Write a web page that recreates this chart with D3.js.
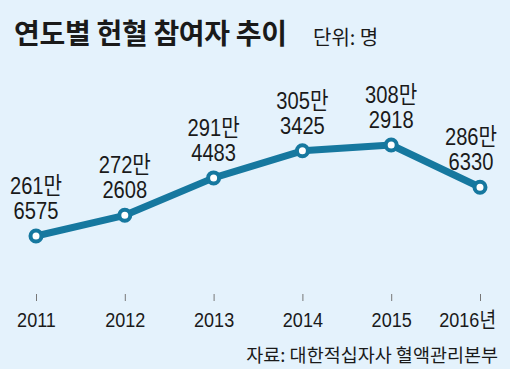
<!DOCTYPE html>
<html>
<head>
<meta charset="utf-8">
<script src="https://cdn.jsdelivr.net/npm/d3@7"></script>
<style>
  body { margin: 0; background: #e4f2fc; }
  svg { display: block; }
  text { fill: #1a1a1a; }
</style>
</head>
<body>
<script>
// 연도별 헌혈 참여자 수 (명)
const years = ["2011", "2012", "2013", "2014", "2015", "2016"];
const donors = [2616575, 2722608, 2914483, 3053425, 3082918, 2866330];
const yearLabels = ["2011", "2012", "2013", "2014", "2015", "2016년"];

function main() {
    const width = 510, height = 369;
    const lineColor = "#16789f";
    const narrow = "'Liberation Sans', Arial, 'Noto Sans CJK KR', sans-serif";

    let svg = d3.select("body").append("svg")
        .attr("width", width)
        .attr("height", height);

    svg.append("rect")
        .attr("width", width).attr("height", height)
        .attr("fill", "#e4f2fc");

    // title
    svg.append("text")
        .attr("x", 14).attr("y", 44)
        .style("font-family", "'Noto Sans CJK KR', sans-serif")
        .style("font-weight", "700")
        .style("font-size", "28px")
        .style("letter-spacing", "-0.3px")
        .text("연도별 헌혈 참여자 추이");

    svg.append("text")
        .attr("x", 313).attr("y", 45)
        .style("font-family", "'Noto Sans CJK KR', sans-serif")
        .style("font-size", "20px")
        .text("단위: 명");

    let xScale = d3.scalePoint().domain(years).range([36, 480]);
    let yScale = d3.scaleLinear().domain([2500000, 3100000]).range([258.7, 141.7]);

    let xAxis = d3.axisBottom(xScale)
        .tickSize(7)
        .tickPadding(11)
        .tickFormat((d, i) => yearLabels[i]);

    let axisG = svg.append("g")
        .attr("transform", "translate(0, 294)")
        .call(xAxis);
    axisG.select(".domain").remove();
    axisG.selectAll(".tick line").attr("stroke", "#777").attr("stroke-width", 1);
    axisG.selectAll(".tick text")
        .style("font-family", narrow)
        .style("font-size", "21px")
        .attr("fill", "#1a1a1a")
        .attr("transform", "scale(0.86,1)");
    axisG.selectAll(".tick:last-of-type text").attr("dx", -15);

    let data = years.map((y, i) => ({ year: y, value: donors[i] }));

    let line = d3.line()
        .x(d => xScale(d.year))
        .y(d => yScale(d.value));

    svg.append("path")
        .datum(data)
        .attr("d", line)
        .attr("fill", "none")
        .attr("stroke", lineColor)
        .attr("stroke-width", 7)
        .attr("stroke-linejoin", "round");

    svg.selectAll("circle")
        .data(data)
        .enter()
        .append("circle")
        .attr("cx", d => xScale(d.year))
        .attr("cy", d => yScale(d.value))
        .attr("r", 5.5)
        .attr("fill", "white")
        .attr("stroke", lineColor)
        .attr("stroke-width", 4);

    // value labels: "261만" / "6575"
    let labels = svg.selectAll(".vlabel")
        .data(data)
        .enter()
        .append("text")
        .attr("class", "vlabel")
        .attr("text-anchor", "middle")
        .style("font-family", narrow)
        .style("font-size", "24px")
        .attr("transform", (d, i) => {
            let dx = i === data.length - 1 ? -9 : 0;
            return `translate(${xScale(d.year) + dx}, ${yScale(d.value) - 17}) scale(0.84,1)`;
        });

    labels.append("tspan")
        .attr("x", 0).attr("y", -25)
        .text(d => Math.floor(d.value / 10000) + "만");
    labels.append("tspan")
        .attr("x", 0).attr("y", 0)
        .text(d => String(d.value % 10000).padStart(4, "0"));

    // source
    svg.append("text")
        .attr("x", 498).attr("y", 362)
        .attr("text-anchor", "end")
        .style("font-family", "'Noto Sans CJK KR', sans-serif")
        .style("font-size", "18.5px")
        .text("자료: 대한적십자사 혈액관리본부");
}

main()
</script>
</body>
</html>
